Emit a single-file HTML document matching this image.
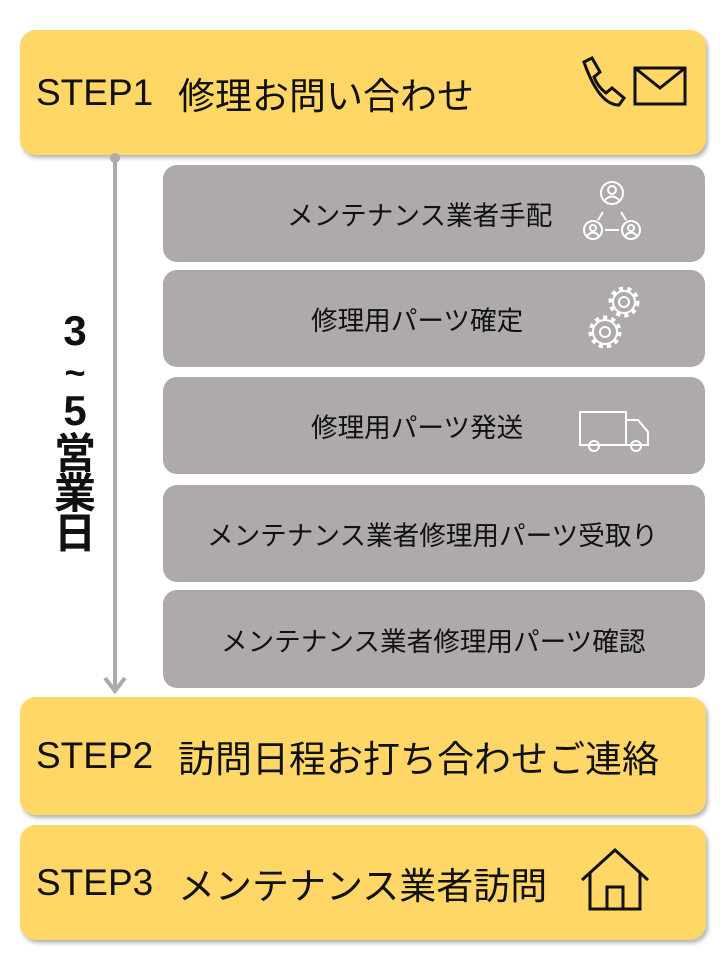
<!DOCTYPE html>
<html><head><meta charset="utf-8"><style>
body{margin:0;width:720px;height:960px;background:#fff;position:relative;font-family:"Liberation Sans","Noto Sans CJK JP",sans-serif;overflow:hidden}
.y{position:absolute;left:20px;width:686px;background:#FFD766;border-radius:16px;box-shadow:2px 3px 4px rgba(0,0,0,.3);font-size:37px;color:#111;display:flex;align-items:center;box-sizing:border-box;padding-left:16px;white-space:nowrap}
.y b{font-weight:normal;display:inline-block;width:142px}
.g{position:absolute;left:163px;width:542px;background:#AEAAAA;border-radius:14px;font-size:26.6px;color:#111;display:flex;align-items:center;box-sizing:border-box;white-space:nowrap}
.g span{position:absolute}
svg{position:absolute}
</style></head><body>
<div class="y" style="top:30px;height:125px"><b>STEP1</b>修理お問い合わせ</div>
<div class="y" style="top:697px;height:118px"><b>STEP2</b>訪問日程お打ち合わせご連絡</div>
<div class="y" style="top:825px;height:115px"><b>STEP3</b>メンテナンス業者訪問</div>
<div class="g" style="top:165px;height:97px"><span style="left:124px">メンテナンス業者手配</span></div>
<div class="g" style="top:270px;height:97px"><span style="left:148px">修理用パーツ確定</span></div>
<div class="g" style="top:377px;height:97px"><span style="left:148px">修理用パーツ発送</span></div>
<div class="g" style="top:485px;height:97px"><span style="left:44px">メンテナンス業者修理用パーツ受取り</span></div>
<div class="g" style="top:590px;height:98px"><span style="left:58px">メンテナンス業者修理用パーツ確認</span></div>
<svg width="720" height="960" style="left:0;top:0">
<circle cx="115" cy="158" r="5" fill="#AEAAAA"/>
<line x1="115" y1="158" x2="115" y2="690" stroke="#AEAAAA" stroke-width="4"/>
<polyline points="105,678 115,691 125,678" fill="none" stroke="#AEAAAA" stroke-width="4"/>
<path d="M584,62 l8,-4 l8,14 l-6,5 q4,10 12,16 l6,-5 l12,10 l-5,7 q-20,0 -35,-43z" fill="none" stroke="#111" stroke-width="3"/>
<rect x="635" y="68" width="50" height="36" fill="none" stroke="#111" stroke-width="3"/>
<polyline points="635,68 660,88 685,68" fill="none" stroke="#111" stroke-width="3"/>
<g fill="none" stroke="#fff" stroke-width="2">
<circle cx="612" cy="193" r="11"/><circle cx="612" cy="190" r="4"/><path d="M604,201 q8,-9 16,0"/>
<circle cx="593" cy="230" r="9"/><circle cx="593" cy="228" r="3"/><path d="M587,236 q6,-7 12,0"/>
<circle cx="631" cy="230" r="9"/><circle cx="631" cy="228" r="3"/><path d="M625,236 q6,-7 12,0"/>
<line x1="603" y1="212" x2="598" y2="220"/><line x1="621" y1="212" x2="626" y2="220"/><line x1="605" y1="230" x2="619" y2="230"/>
<circle cx="624" cy="302" r="13" stroke-width="5" stroke-dasharray="4 4"/><circle cx="624" cy="302" r="11"/><circle cx="624" cy="302" r="5"/>
<circle cx="605" cy="332" r="14" stroke-width="5" stroke-dasharray="4 4"/><circle cx="605" cy="332" r="12"/><circle cx="605" cy="332" r="5"/>
<rect x="580" y="412" width="46" height="33"/><path d="M626,420 h12 l10,12 v13 h-22"/>
<circle cx="594" cy="446" r="5"/><circle cx="636" cy="446" r="5"/>
</g>
<g fill="none" stroke="#111" stroke-width="3">
<path d="M582,880 l33,-30 l33,30"/><path d="M590,873 v36 h50 v-36"/><rect x="607" y="887" width="16" height="22"/>
</g>
<g font-size="42" font-weight="bold" text-anchor="middle" fill="#111" font-family="Liberation Sans,Noto Sans CJK JP,sans-serif">
<text x="75" y="345">3</text>
<text x="75" y="385" font-size="36">~</text>
<text x="75" y="425">5</text>
<text x="75" y="468" font-family="Noto Sans CJK JP,sans-serif">営</text>
<text x="75" y="508" font-family="Noto Sans CJK JP,sans-serif">業</text>
<text x="75" y="548" font-family="Noto Sans CJK JP,sans-serif">日</text>
</g>
</svg>
</body></html>
